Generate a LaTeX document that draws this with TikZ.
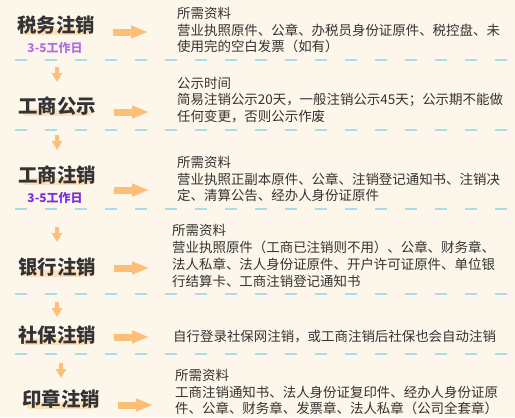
\documentclass[tikz,border=0pt]{standalone}
\usepackage{fontspec}
\setmainfont{Noto Sans CJK SC}
\usetikzlibrary{arrows.meta,calc}

\definecolor{page}{HTML}{FDF6EA}
\definecolor{ink}{HTML}{333333}
\definecolor{arrowc}{HTML}{FDBF78}
\definecolor{hlc}{HTML}{FDE0BE}
\definecolor{sepc}{HTML}{A6DCEC}
\definecolor{lilac}{HTML}{B06EE8}
\definecolor{deepviolet}{HTML}{7A2EE0}

\pgfdeclarelayer{marker}
\pgfsetlayers{marker,main}

\tikzset{
  title/.style={font=\bfseries\fontsize{19.5}{22}\selectfont, text=ink, inner sep=0pt},
  days/.style={font=\bfseries\fontsize{12}{14}\selectfont, inner sep=0pt},
  info/.style={font=\fontsize{13.5}{16.8}\selectfont, text=ink, align=left, anchor=west, inner sep=0pt},
  rarrow/.style={draw=arrowc, line width=7bp, -{Triangle[length=17bp,width=12bp]}},
  darrow/.style={draw=arrowc, line width=4bp, -{Triangle[length=9bp,width=10bp]}},
  sepline/.style={draw=sepc, line width=1.2bp, dash pattern=on 12bp off 18bp},
  marker/.style={draw=hlc, line width=7bp, line cap=round}
}

\begin{document}
\begin{tikzpicture}[x=1bp, y=-1bp]
  \useasboundingbox (0,0) rectangle (515,417);
  \begin{pgfonlayer}{marker}
    \fill[page] (0,0) rectangle (515,417);
  \end{pgfonlayer}

  % 步骤
  \node[title] (tax) at (56,25) {税务注销};
  \node[days, text=lilac] (tax-days) at (55,48) {3-5工作日};
  \node[title] (notice) at (57,106) {工商公示};
  \node[title] (reg) at (57,175) {工商注销};
  \node[days, text=deepviolet] (reg-days) at (55,198) {3-5工作日};
  \node[title] (bank) at (57,267) {银行注销};
  \node[title] (social) at (57,335) {社保注销};
  \node[title] (seal) at (61,399) {印章注销};

  % 说明
  \node[info] (tax-info) at (177,30) {所需资料\\营业执照原件、公章、办税员身份证原件、税控盘、未\\使用完的空白发票（如有）};
  \node[info] (notice-info) at (177,100) {公示时间\\简易注销公示20天，一般注销公示45天；公示期不能做\\任何变更，否则公示作废};
  \node[info] (reg-info) at (177,179) {所需资料\\营业执照正副本原件、公章、注销登记通知书、注销决\\定、清算公告、经办人身份证原件};
  \node[info] (bank-info) at (172,256) {所需资料\\营业执照原件（工商已注销则不用）、公章、财务章、\\法人私章、法人身份证原件、开户许可证原件、单位银\\行结算卡、工商注销登记通知书};
  \node[info] (social-info) at (173,337) {自行登录社保网注销，或工商注销后社保也会自动注销};
  \node[info] (seal-info) at (175,392) {所需资料\\工商注销通知书、法人身份证复印件、经办人身份证原\\件、公章、财务章、发票章、法人私章（公司全套章）};

  % 标题下的涂抹
  \begin{pgfonlayer}{marker}
    \foreach \t in {tax,notice,reg,bank,social,seal}
      \draw[marker] ([xshift=8bp,yshift=3bp]\t.south west) -- ([xshift=-8bp,yshift=3bp]\t.south east);
  \end{pgfonlayer}

  % 分隔线
  \foreach \n/\y in {1/60, 2/130, 3/209, 4/294, 5/354} {
    \coordinate (sep\n) at (56,\y);
    \draw[sepline] (15,\y) -- (515,\y);
  }

  % 箭头
  \foreach \t/\dy in {tax/7, notice/6, reg/15, bank/1, social/2, seal/6}
    \draw[rarrow] ($(\t.east)+(18,\dy)$) -- ++(35,0);
  \foreach \s/\b/\d in {1/notice/7, 2/reg/5, 3/bank/18, 4/social/8, 5/seal/9}
    \draw[darrow] ($(\b.north |- sep\s)+(0,\d)$) -- ++(0,15);
\end{tikzpicture}
\end{document}
